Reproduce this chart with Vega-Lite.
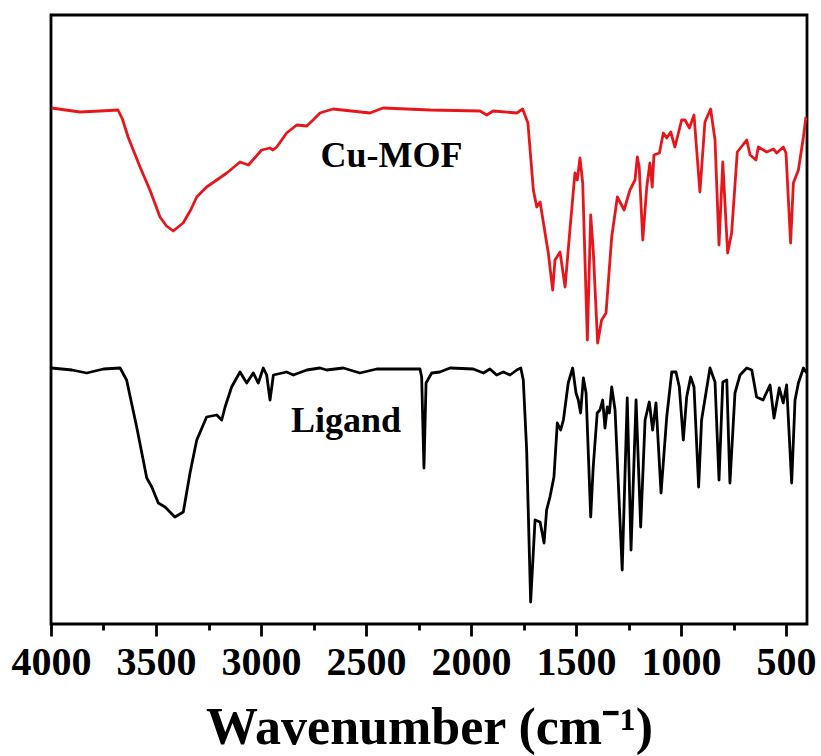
{
  "$schema": "https://vega.github.io/schema/vega-lite/v6.json",
  "width": 756,
  "height": 609,
  "autosize": {"type": "none"},
  "padding": {"left": 51, "top": 15, "right": 14, "bottom": 132},
  "background": "white",
  "config": {
    "view": {"stroke": "black", "strokeWidth": 2.8},
    "font": "Liberation Serif",
    "axis": {"labelFont": "Liberation Serif", "titleFont": "Liberation Serif"}
  },
  "datasets": {
    "spectra": [
      {"series": "Cu-MOF", "wn": 3997, "T": 516},
      {"series": "Cu-MOF", "wn": 3930, "T": 514},
      {"series": "Cu-MOF", "wn": 3862, "T": 512},
      {"series": "Cu-MOF", "wn": 3767, "T": 513},
      {"series": "Cu-MOF", "wn": 3681, "T": 514},
      {"series": "Cu-MOF", "wn": 3660, "T": 505},
      {"series": "Cu-MOF", "wn": 3633, "T": 487},
      {"series": "Cu-MOF", "wn": 3576, "T": 457},
      {"series": "Cu-MOF", "wn": 3529, "T": 434},
      {"series": "Cu-MOF", "wn": 3481, "T": 407},
      {"series": "Cu-MOF", "wn": 3450, "T": 398},
      {"series": "Cu-MOF", "wn": 3418, "T": 393},
      {"series": "Cu-MOF", "wn": 3371, "T": 401},
      {"series": "Cu-MOF", "wn": 3335, "T": 414},
      {"series": "Cu-MOF", "wn": 3306, "T": 427},
      {"series": "Cu-MOF", "wn": 3259, "T": 437},
      {"series": "Cu-MOF", "wn": 3163, "T": 451},
      {"series": "Cu-MOF", "wn": 3100, "T": 462},
      {"series": "Cu-MOF", "wn": 3060, "T": 459},
      {"series": "Cu-MOF", "wn": 2997, "T": 474},
      {"series": "Cu-MOF", "wn": 2957, "T": 476},
      {"series": "Cu-MOF", "wn": 2943, "T": 474},
      {"series": "Cu-MOF", "wn": 2925, "T": 477},
      {"series": "Cu-MOF", "wn": 2878, "T": 491},
      {"series": "Cu-MOF", "wn": 2830, "T": 499},
      {"series": "Cu-MOF", "wn": 2782, "T": 498},
      {"series": "Cu-MOF", "wn": 2752, "T": 504},
      {"series": "Cu-MOF", "wn": 2719, "T": 511},
      {"series": "Cu-MOF", "wn": 2705, "T": 512},
      {"series": "Cu-MOF", "wn": 2657, "T": 515},
      {"series": "Cu-MOF", "wn": 2481, "T": 511},
      {"series": "Cu-MOF", "wn": 2419, "T": 516},
      {"series": "Cu-MOF", "wn": 2195, "T": 514},
      {"series": "Cu-MOF", "wn": 1957, "T": 513},
      {"series": "Cu-MOF", "wn": 1925, "T": 509},
      {"series": "Cu-MOF", "wn": 1895, "T": 513},
      {"series": "Cu-MOF", "wn": 1782, "T": 511},
      {"series": "Cu-MOF", "wn": 1754, "T": 515},
      {"series": "Cu-MOF", "wn": 1729, "T": 501},
      {"series": "Cu-MOF", "wn": 1703, "T": 434},
      {"series": "Cu-MOF", "wn": 1687, "T": 417},
      {"series": "Cu-MOF", "wn": 1671, "T": 422},
      {"series": "Cu-MOF", "wn": 1655, "T": 401},
      {"series": "Cu-MOF", "wn": 1632, "T": 371},
      {"series": "Cu-MOF", "wn": 1611, "T": 334},
      {"series": "Cu-MOF", "wn": 1600, "T": 364},
      {"series": "Cu-MOF", "wn": 1576, "T": 372},
      {"series": "Cu-MOF", "wn": 1552, "T": 337},
      {"series": "Cu-MOF", "wn": 1529, "T": 394},
      {"series": "Cu-MOF", "wn": 1505, "T": 451},
      {"series": "Cu-MOF", "wn": 1494, "T": 444},
      {"series": "Cu-MOF", "wn": 1481, "T": 466},
      {"series": "Cu-MOF", "wn": 1468, "T": 441},
      {"series": "Cu-MOF", "wn": 1446, "T": 284},
      {"series": "Cu-MOF", "wn": 1430, "T": 409},
      {"series": "Cu-MOF", "wn": 1418, "T": 374},
      {"series": "Cu-MOF", "wn": 1397, "T": 281},
      {"series": "Cu-MOF", "wn": 1378, "T": 304},
      {"series": "Cu-MOF", "wn": 1357, "T": 311},
      {"series": "Cu-MOF", "wn": 1330, "T": 387},
      {"series": "Cu-MOF", "wn": 1303, "T": 427},
      {"series": "Cu-MOF", "wn": 1271, "T": 414},
      {"series": "Cu-MOF", "wn": 1243, "T": 434},
      {"series": "Cu-MOF", "wn": 1219, "T": 444},
      {"series": "Cu-MOF", "wn": 1208, "T": 467},
      {"series": "Cu-MOF", "wn": 1199, "T": 457},
      {"series": "Cu-MOF", "wn": 1182, "T": 384},
      {"series": "Cu-MOF", "wn": 1163, "T": 437},
      {"series": "Cu-MOF", "wn": 1148, "T": 461},
      {"series": "Cu-MOF", "wn": 1137, "T": 437},
      {"series": "Cu-MOF", "wn": 1129, "T": 469},
      {"series": "Cu-MOF", "wn": 1103, "T": 471},
      {"series": "Cu-MOF", "wn": 1084, "T": 491},
      {"series": "Cu-MOF", "wn": 1068, "T": 486},
      {"series": "Cu-MOF", "wn": 1049, "T": 492},
      {"series": "Cu-MOF", "wn": 1029, "T": 477},
      {"series": "Cu-MOF", "wn": 997, "T": 504},
      {"series": "Cu-MOF", "wn": 981, "T": 504},
      {"series": "Cu-MOF", "wn": 960, "T": 496},
      {"series": "Cu-MOF", "wn": 938, "T": 509},
      {"series": "Cu-MOF", "wn": 910, "T": 432},
      {"series": "Cu-MOF", "wn": 886, "T": 502},
      {"series": "Cu-MOF", "wn": 859, "T": 515},
      {"series": "Cu-MOF", "wn": 838, "T": 484},
      {"series": "Cu-MOF", "wn": 819, "T": 379},
      {"series": "Cu-MOF", "wn": 801, "T": 462},
      {"series": "Cu-MOF", "wn": 778, "T": 371},
      {"series": "Cu-MOF", "wn": 759, "T": 391},
      {"series": "Cu-MOF", "wn": 732, "T": 472},
      {"series": "Cu-MOF", "wn": 687, "T": 484},
      {"series": "Cu-MOF", "wn": 671, "T": 469},
      {"series": "Cu-MOF", "wn": 643, "T": 464},
      {"series": "Cu-MOF", "wn": 632, "T": 477},
      {"series": "Cu-MOF", "wn": 592, "T": 472},
      {"series": "Cu-MOF", "wn": 560, "T": 475},
      {"series": "Cu-MOF", "wn": 544, "T": 471},
      {"series": "Cu-MOF", "wn": 513, "T": 477},
      {"series": "Cu-MOF", "wn": 500, "T": 471},
      {"series": "Cu-MOF", "wn": 478, "T": 381},
      {"series": "Cu-MOF", "wn": 465, "T": 441},
      {"series": "Cu-MOF", "wn": 441, "T": 454},
      {"series": "Cu-MOF", "wn": 417, "T": 487},
      {"series": "Cu-MOF", "wn": 405, "T": 507},
      {"series": "Ligand", "wn": 3997, "T": 256},
      {"series": "Ligand", "wn": 3900, "T": 254},
      {"series": "Ligand", "wn": 3830, "T": 251},
      {"series": "Ligand", "wn": 3750, "T": 255},
      {"series": "Ligand", "wn": 3671, "T": 256},
      {"series": "Ligand", "wn": 3640, "T": 244},
      {"series": "Ligand", "wn": 3592, "T": 197},
      {"series": "Ligand", "wn": 3544, "T": 146},
      {"series": "Ligand", "wn": 3520, "T": 137},
      {"series": "Ligand", "wn": 3489, "T": 121},
      {"series": "Ligand", "wn": 3457, "T": 117},
      {"series": "Ligand", "wn": 3410, "T": 107},
      {"series": "Ligand", "wn": 3370, "T": 112},
      {"series": "Ligand", "wn": 3338, "T": 151},
      {"series": "Ligand", "wn": 3306, "T": 184},
      {"series": "Ligand", "wn": 3259, "T": 207},
      {"series": "Ligand", "wn": 3211, "T": 209},
      {"series": "Ligand", "wn": 3187, "T": 204},
      {"series": "Ligand", "wn": 3171, "T": 217},
      {"series": "Ligand", "wn": 3140, "T": 237},
      {"series": "Ligand", "wn": 3100, "T": 252},
      {"series": "Ligand", "wn": 3068, "T": 241},
      {"series": "Ligand", "wn": 3037, "T": 251},
      {"series": "Ligand", "wn": 3013, "T": 241},
      {"series": "Ligand", "wn": 2989, "T": 256},
      {"series": "Ligand", "wn": 2973, "T": 249},
      {"series": "Ligand", "wn": 2957, "T": 224},
      {"series": "Ligand", "wn": 2941, "T": 249},
      {"series": "Ligand", "wn": 2878, "T": 252},
      {"series": "Ligand", "wn": 2846, "T": 249},
      {"series": "Ligand", "wn": 2782, "T": 254},
      {"series": "Ligand", "wn": 2719, "T": 256},
      {"series": "Ligand", "wn": 2687, "T": 254},
      {"series": "Ligand", "wn": 2608, "T": 256},
      {"series": "Ligand", "wn": 2529, "T": 251},
      {"series": "Ligand", "wn": 2449, "T": 255},
      {"series": "Ligand", "wn": 2243, "T": 255},
      {"series": "Ligand", "wn": 2235, "T": 247},
      {"series": "Ligand", "wn": 2224, "T": 156},
      {"series": "Ligand", "wn": 2214, "T": 241},
      {"series": "Ligand", "wn": 2187, "T": 251},
      {"series": "Ligand", "wn": 2148, "T": 252},
      {"series": "Ligand", "wn": 2100, "T": 256},
      {"series": "Ligand", "wn": 1989, "T": 255},
      {"series": "Ligand", "wn": 1941, "T": 251},
      {"series": "Ligand", "wn": 1910, "T": 255},
      {"series": "Ligand", "wn": 1878, "T": 249},
      {"series": "Ligand", "wn": 1846, "T": 252},
      {"series": "Ligand", "wn": 1814, "T": 249},
      {"series": "Ligand", "wn": 1782, "T": 254},
      {"series": "Ligand", "wn": 1763, "T": 256},
      {"series": "Ligand", "wn": 1751, "T": 244},
      {"series": "Ligand", "wn": 1735, "T": 174},
      {"series": "Ligand", "wn": 1716, "T": 22},
      {"series": "Ligand", "wn": 1695, "T": 104},
      {"series": "Ligand", "wn": 1671, "T": 102},
      {"series": "Ligand", "wn": 1652, "T": 81},
      {"series": "Ligand", "wn": 1640, "T": 114},
      {"series": "Ligand", "wn": 1624, "T": 127},
      {"series": "Ligand", "wn": 1605, "T": 147},
      {"series": "Ligand", "wn": 1589, "T": 201},
      {"series": "Ligand", "wn": 1573, "T": 194},
      {"series": "Ligand", "wn": 1560, "T": 204},
      {"series": "Ligand", "wn": 1537, "T": 241},
      {"series": "Ligand", "wn": 1516, "T": 256},
      {"series": "Ligand", "wn": 1500, "T": 231},
      {"series": "Ligand", "wn": 1489, "T": 224},
      {"series": "Ligand", "wn": 1478, "T": 211},
      {"series": "Ligand", "wn": 1465, "T": 246},
      {"series": "Ligand", "wn": 1452, "T": 231},
      {"series": "Ligand", "wn": 1430, "T": 107},
      {"series": "Ligand", "wn": 1418, "T": 157},
      {"series": "Ligand", "wn": 1399, "T": 211},
      {"series": "Ligand", "wn": 1386, "T": 214},
      {"series": "Ligand", "wn": 1373, "T": 224},
      {"series": "Ligand", "wn": 1362, "T": 196},
      {"series": "Ligand", "wn": 1351, "T": 217},
      {"series": "Ligand", "wn": 1341, "T": 211},
      {"series": "Ligand", "wn": 1330, "T": 237},
      {"series": "Ligand", "wn": 1314, "T": 214},
      {"series": "Ligand", "wn": 1280, "T": 54},
      {"series": "Ligand", "wn": 1256, "T": 226},
      {"series": "Ligand", "wn": 1238, "T": 74},
      {"series": "Ligand", "wn": 1214, "T": 224},
      {"series": "Ligand", "wn": 1192, "T": 97},
      {"series": "Ligand", "wn": 1171, "T": 204},
      {"series": "Ligand", "wn": 1151, "T": 222},
      {"series": "Ligand", "wn": 1135, "T": 194},
      {"series": "Ligand", "wn": 1119, "T": 221},
      {"series": "Ligand", "wn": 1095, "T": 131},
      {"series": "Ligand", "wn": 1068, "T": 207},
      {"series": "Ligand", "wn": 1044, "T": 252},
      {"series": "Ligand", "wn": 1024, "T": 252},
      {"series": "Ligand", "wn": 1008, "T": 237},
      {"series": "Ligand", "wn": 989, "T": 184},
      {"series": "Ligand", "wn": 973, "T": 227},
      {"series": "Ligand", "wn": 954, "T": 247},
      {"series": "Ligand", "wn": 938, "T": 237},
      {"series": "Ligand", "wn": 916, "T": 137},
      {"series": "Ligand", "wn": 902, "T": 204},
      {"series": "Ligand", "wn": 862, "T": 256},
      {"series": "Ligand", "wn": 838, "T": 242},
      {"series": "Ligand", "wn": 819, "T": 144},
      {"series": "Ligand", "wn": 801, "T": 242},
      {"series": "Ligand", "wn": 782, "T": 244},
      {"series": "Ligand", "wn": 767, "T": 141},
      {"series": "Ligand", "wn": 743, "T": 231},
      {"series": "Ligand", "wn": 719, "T": 249},
      {"series": "Ligand", "wn": 687, "T": 256},
      {"series": "Ligand", "wn": 663, "T": 254},
      {"series": "Ligand", "wn": 640, "T": 227},
      {"series": "Ligand", "wn": 609, "T": 224},
      {"series": "Ligand", "wn": 576, "T": 239},
      {"series": "Ligand", "wn": 557, "T": 206},
      {"series": "Ligand", "wn": 532, "T": 236},
      {"series": "Ligand", "wn": 513, "T": 221},
      {"series": "Ligand", "wn": 497, "T": 239},
      {"series": "Ligand", "wn": 473, "T": 141},
      {"series": "Ligand", "wn": 457, "T": 224},
      {"series": "Ligand", "wn": 441, "T": 241},
      {"series": "Ligand", "wn": 417, "T": 256},
      {"series": "Ligand", "wn": 401, "T": 251}
    ],
    "labels": [
      {"label": "Cu-MOF", "wn": 2379, "T": 457},
      {"label": "Ligand", "wn": 2595, "T": 192}
    ]
  },
  "layer": [
    {
      "data": {"name": "spectra"},
      "mark": {"type": "line", "strokeWidth": 2.8, "strokeJoin": "round", "clip": true},
      "encoding": {
        "x": {
          "field": "wn",
          "type": "quantitative",
          "scale": {"domain": [4000, 400], "nice": false, "zero": false},
          "axis": {
            "title": "Wavenumber (cm⁻¹)",
            "values": [4000, 3750, 3500, 3250, 3000, 2750, 2500, 2250, 2000, 1750, 1500, 1250, 1000, 750, 500],
            "labelExpr": "datum.value % 500 === 0 ? datum.label : ''",
            "format": "d",
            "grid": false,
            "domain": false,
            "tickColor": "black",
            "tickWidth": 2.8,
            "tickSize": {"condition": {"test": "datum.value % 500 === 0", "value": 12}, "value": 6},
            "labelFont": "Liberation Serif",
            "labelFontWeight": "bold",
            "labelFontSize": 40,
            "labelColor": "black",
            "labelPadding": 6,
            "labelFlush": false,
            "labelOverlap": false,
            "titleFont": "Liberation Serif",
            "titleFontWeight": "bold",
            "titleFontSize": 52,
            "titleColor": "black",
            "titlePadding": 20
          }
        },
        "y": {
          "field": "T",
          "type": "quantitative",
          "scale": {"domain": [0, 609], "nice": false},
          "axis": null
        },
        "color": {
          "field": "series",
          "type": "nominal",
          "scale": {"domain": ["Cu-MOF", "Ligand"], "range": ["#e8161b", "#000000"]},
          "legend": null
        }
      }
    },
    {
      "data": {"name": "labels"},
      "mark": {"type": "text", "font": "Liberation Serif", "fontWeight": "bold", "fontSize": 36, "align": "center", "baseline": "alphabetic", "color": "black"},
      "encoding": {
        "x": {"field": "wn", "type": "quantitative"},
        "y": {"field": "T", "type": "quantitative"},
        "text": {"field": "label"}
      }
    }
  ]
}
